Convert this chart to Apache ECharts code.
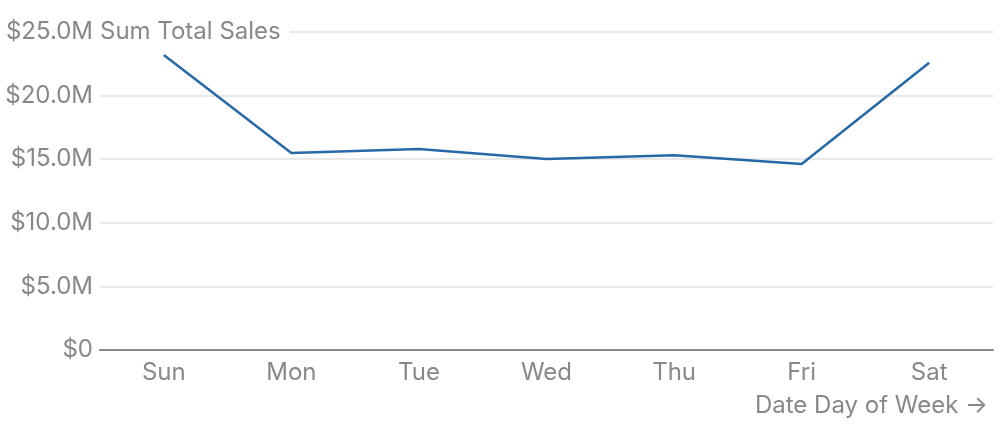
<!DOCTYPE html>
<html>
<head>
<meta charset="utf-8">
<script src="https://cdn.jsdelivr.net/npm/echarts@6/dist/echarts.min.js"></script>
<style>
  html, body { margin: 0; padding: 0; background: #fff; }
  #main { width: 1000px; height: 430px; }
</style>
</head>
<body>
<div id="main"></div>
<script>
// categories and values
var days = ['Sun', 'Mon', 'Tue', 'Wed', 'Thu', 'Fri', 'Sat'];
var totalSales = [23200000, 15480000, 15800000, 15020000, 15320000, 14620000, 22580000];
var yTicks = [0, 5000000, 10000000, 15000000, 20000000, 25000000];

var myChart = echarts.init(document.getElementById('main'));
var font = 'Inter, "Noto Sans", sans-serif';

function money(v) {
    if (v == 0) return '$0';
    return '$' + (v / 1000000).toFixed(1) + 'M';
}

myChart.setOption({
    animation: false,
    grid: { left: 100, right: 7, top: 32, bottom: 80 },
    xAxis: {
        type: 'category',
        data: days,
        boundaryGap: true,
        name: 'Date Day of Week \u2192',
        nameLocation: 'end',
        nameGap: -5,
        nameTextStyle: {
            fontFamily: font, fontSize: 24, color: '#888',
            align: 'right', verticalAlign: 'top', padding: [44, 0, 0, 0]
        },
        axisLine: { lineStyle: { color: '#888', width: 2 } },
        axisTick: { show: false },
        axisLabel: { fontFamily: font, fontSize: 24, color: '#888', margin: 11 }
    },
    yAxis: {
        type: 'value',
        min: yTicks[0],
        max: yTicks[yTicks.length - 1],
        interval: 5000000,
        name: 'Sum Total Sales',
        nameLocation: 'end',
        nameGap: 0,
        nameTextStyle: {
            fontFamily: font, fontSize: 24, color: '#888',
            align: 'left', verticalAlign: 'middle',
            backgroundColor: '#fff', padding: [2, 9, 2, 0]
        },
        axisLine: { show: false },
        axisTick: { show: false },
        splitLine: { lineStyle: { color: '#e2e2e2', width: 1.5 } },
        axisLabel: { fontFamily: font, fontSize: 24, color: '#888', margin: 7, formatter: money }
    },
    series: [{
        type: 'line',
        data: totalSales,
        showSymbol: false,
        lineStyle: { color: '#2768a6', width: 2.5 },
        z: 1
    }]
});

window.addEventListener('resize', function () {
    myChart.resize();
});
</script>
</body>
</html>
